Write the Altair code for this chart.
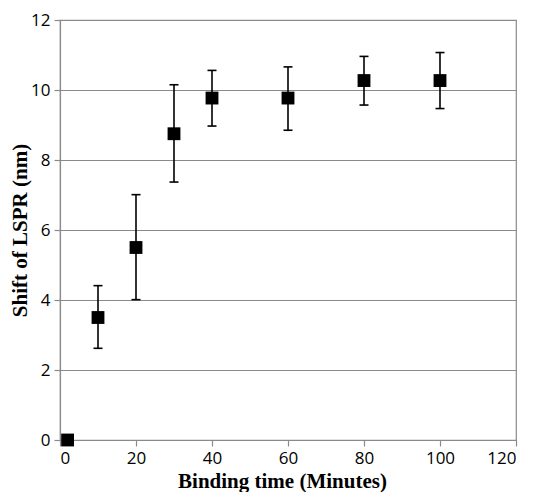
import altair as alt
import pandas as pd

times = [2, 10, 20, 30, 40, 60, 80, 100]
shift = [0.0, 3.5, 5.5, 8.75, 9.77, 9.77, 10.27, 10.27]
err_lo = [None, 2.62, 4.01, 7.37, 8.97, 8.85, 9.57, 9.47]
err_hi = [None, 4.41, 7.01, 10.15, 10.56, 10.66, 10.96, 11.07]

df = pd.DataFrame({"t": times, "s": shift, "lo": err_lo, "hi": err_hi})
edf = df.dropna()

xs = alt.Scale(domain=[0, 120], nice=False)
ys = alt.Scale(domain=[0, 12], nice=False)

xax = alt.Axis(values=[0, 20, 40, 60, 80, 100, 120], grid=False, title="Binding time (Minutes)",
               titleX=222, titleY=47, titleBaseline="alphabetic", titleAlign="center")
yax = alt.Axis(values=[0, 2, 4, 6, 8, 10, 12], grid=True, title="Shift of LSPR (nm)",
               titleX=-40, titleY=210, titleAngle=-90, titleBaseline="middle", titleAlign="center")

base = alt.Chart(df)

pts = base.mark_point(shape="square", filled=True, color="black", opacity=1, size=165).encode(
    x=alt.X("t:Q", scale=xs, axis=xax),
    y=alt.Y("s:Q", scale=ys, axis=yax),
)

ebase = alt.Chart(edf)
rule = ebase.mark_rule(color="black", strokeWidth=1.6).encode(
    x=alt.X("t:Q", scale=xs), y=alt.Y("lo:Q", scale=ys), y2="hi:Q"
)
cap_lo = ebase.mark_tick(orient="horizontal", color="black", size=9, thickness=1.6, opacity=1).encode(
    x=alt.X("t:Q", scale=xs), y=alt.Y("lo:Q", scale=ys)
)
cap_hi = ebase.mark_tick(orient="horizontal", color="black", size=9, thickness=1.6, opacity=1).encode(
    x=alt.X("t:Q", scale=xs), y=alt.Y("hi:Q", scale=ys)
)

chart = alt.layer(rule, cap_lo, cap_hi, pts).properties(
    width=456, height=420,
    autosize=alt.AutoSizeParams(type="none"),
    padding={"left": 52, "top": 12, "right": 15, "bottom": 52},
).configure_view(
    stroke="#8a8a8a", strokeWidth=1.2
).configure_axis(
    domainColor="#8a8a8a", domainWidth=1.2,
    tickColor="#8a8a8a", tickSize=6, tickWidth=1.2,
    gridColor="#8a8a8a", gridWidth=1.2,
    labelFont="Open Sans", labelFontSize=17, labelColor="black",
    titleFont="Liberation Serif", titleFontSize=21, titleFontWeight="bold", titleColor="black",
).configure_axisX(
    labelPadding=4
).configure_axisY(
    labelPadding=4
)

chart.save("out.html", embed_options={"renderer": "svg", "actions": False})
